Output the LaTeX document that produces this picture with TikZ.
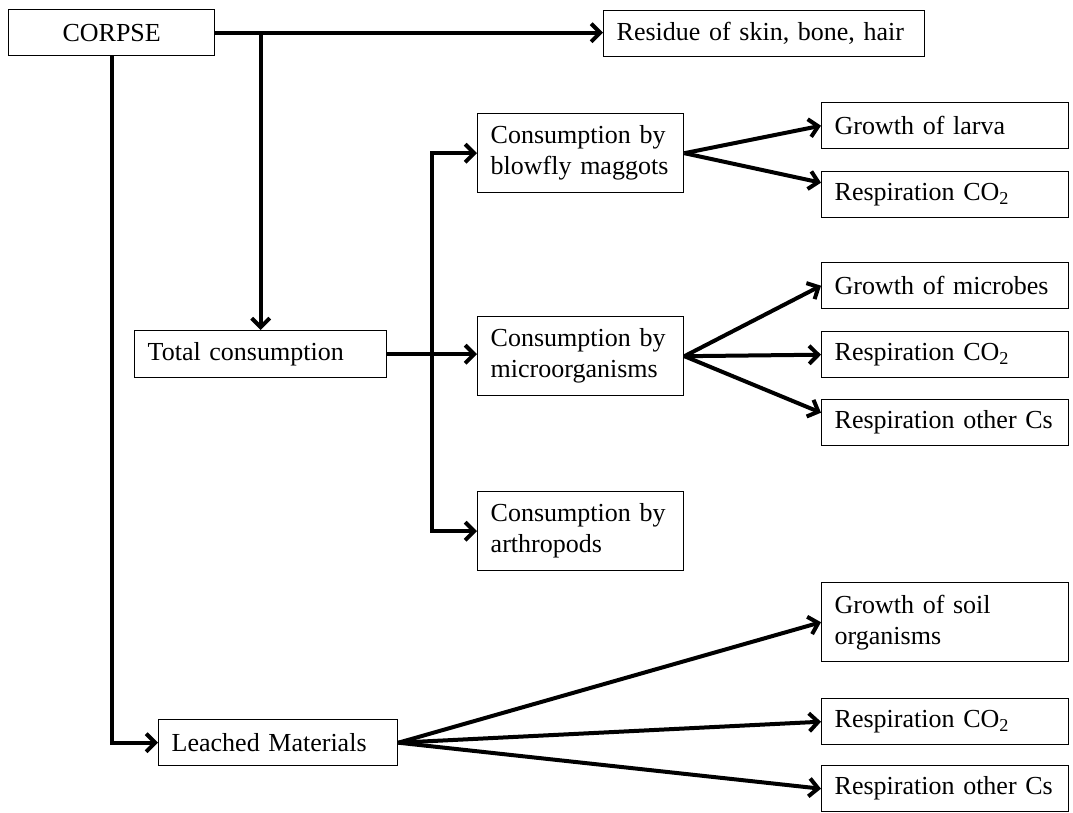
\documentclass[tikz,border=0pt]{standalone}
\usepackage{fontspec}
\setmainfont{Liberation Serif}
\usetikzlibrary{arrows.meta}

\tikzset{
  >={Straight Barb[length=9pt,width=18pt]},
  box/.style={draw, line width=1.4pt, anchor=north west, inner xsep=13pt, inner ysep=0pt, align=left, minimum height=46pt},
  colbox/.style={box, text width=180pt, minimum height=79pt},
  rbox/.style={box, text width=221pt},
  flow/.style={line width=4pt, line join=miter, ->}
}

\begin{document}
\begin{tikzpicture}[x=1pt, y=-1pt, font=\fontsize{26pt}{31pt}\selectfont]
   \useasboundingbox (0,0) rectangle (1073,813);

   \node[box, text width=180pt, align=center] (corpse) at (8,9) {CORPSE};
   \node[box, text width=295pt] (residue) at (603,10) {Residue of skin, bone, hair};
   \node[box, text width=226pt, minimum height=47pt] (total) at (134,330) {Total consumption};
   \node[box, text width=213pt] (leached) at (158,719) {Leached Materials};

   \node[colbox] (blowfly) at (477,113) {Consumption by\\blowfly maggots};
   \node[colbox] (micro) at (477,316) {Consumption by\\microorganisms};
   \node[colbox] (arthro) at (477,491) {Consumption by\\arthropods};

   \node[rbox] (larva) at (821,102) {Growth of larva};
   \node[rbox] (rcoa) at (821,171) {Respiration CO\textsubscript{2}};
   \node[rbox] (microbes) at (821,262) {Growth of microbes};
   \node[rbox] (rcob) at (821,331) {Respiration CO\textsubscript{2}};
   \node[rbox] (rothb) at (821,399) {Respiration other Cs};
   \node[rbox, minimum height=79pt] (soil) at (821,582) {Growth of soil\\organisms};
   \node[rbox] (rcoc) at (821,698) {Respiration CO\textsubscript{2}};
   \node[rbox] (rothc) at (821,765) {Respiration other Cs};

   \coordinate (split) at (corpse.east -| total.north);
   \coordinate (bus) at (432,353);

   \draw[flow] (corpse.east) -- (corpse.east -| residue.west);
   \draw[flow] (split) -- (total.north);
   \draw[flow] (corpse.south) |- (leached.west);
   \draw[flow] (total.east) -- (total.east -| micro.west);
   \draw[flow, <->] (blowfly.west) -| (bus) |- (arthro.west);

   \draw[flow] (blowfly.east) -- (larva.west);
   \draw[flow] (blowfly.east) -- ([yshift=12pt]rcoa.west);
   \draw[flow] (micro.east) -- (microbes.west);
   \draw[flow] (micro.east) -- (rcob.west);
   \draw[flow] (micro.east) -- ([yshift=10pt]rothb.west);
   \draw[flow] (leached.east) -- (soil.west);
   \draw[flow] (leached.east) -- (rcoc.west);
   \draw[flow] (leached.east) -- (rothc.west);
\end{tikzpicture}
\end{document}
